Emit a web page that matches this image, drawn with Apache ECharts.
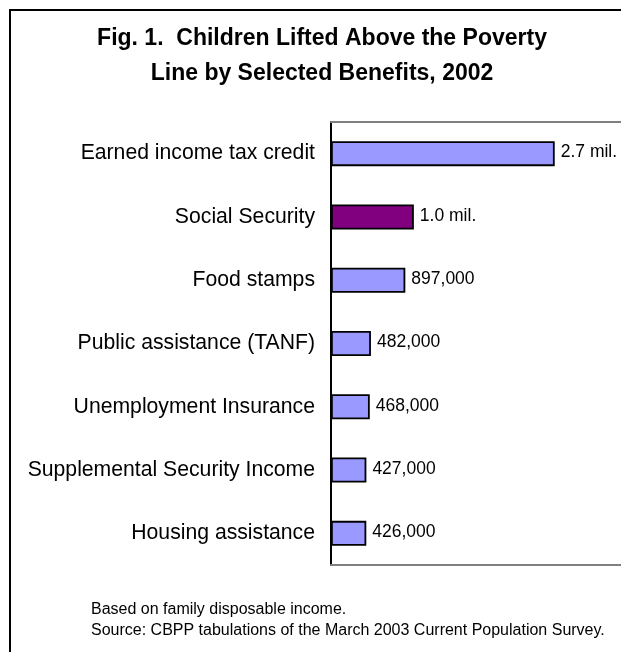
<!DOCTYPE html>
<html>
<head>
<meta charset="utf-8">
<script src="https://cdn.jsdelivr.net/npm/echarts@6/dist/echarts.min.js"></script>
<style>
html,body{margin:0;padding:0;background:#fff;}
#chart{width:621px;height:652px;}
</style>
</head>
<body>
<div id="chart"></div>
<script>
const categories = ['Earned income tax credit','Social Security','Food stamps','Public assistance (TANF)','Unemployment Insurance','Supplemental Security Income','Housing assistance'];
const valuesMillions = [2.7, 1.0, 0.897, 0.482, 0.468, 0.427, 0.426];
const valueLabels = ['2.7 mil.','1.0 mil.','897,000','482,000','468,000','427,000','426,000'];
const barColors = ['#9999FF','#800080','#9999FF','#9999FF','#9999FF','#9999FF','#9999FF'];
const titleLines = ['Fig. 1.  Children Lifted Above the Poverty','Line by Selected Benefits, 2002'];
const footnotes = ['Based on family disposable income.','Source: CBPP tabulations of the March 2003 Current Population Survey.'];

const FONT = '"Liberation Sans", Arial, sans-serif';
const chart = echarts.init(document.getElementById('chart'), null, {renderer:'canvas'});
const hiddenAxisParts = {axisTick:{show:false}, axisLabel:{show:false}, splitLine:{show:false}};
chart.setOption({
  animation:false,
  backgroundColor:'#ffffff',
  grid:{left:331, top:122, right:0, bottom:87, show:false},
  xAxis:[
    Object.assign({type:'value', min:0, max:3.5, position:'bottom',
      axisLine:{show:true, lineStyle:{color:'#808080', width:2}}}, hiddenAxisParts),
    Object.assign({type:'value', min:0, max:3.5, position:'top',
      axisLine:{show:true, lineStyle:{color:'#808080', width:2}}}, hiddenAxisParts)
  ],
  yAxis:{type:'category', data:categories, inverse:true,
    axisLine:{show:true, lineStyle:{color:'#000', width:2}},
    axisTick:{show:false},
    axisLabel:{color:'#000', fontSize:21.2, fontFamily:FONT, margin:16, padding:[0,0,2,0]}
  },
  series:[{
    type:'bar',
    xAxisIndex:0,
    data:valuesMillions.map((v,i)=>({value:v, itemStyle:{color:barColors[i]}})),
    barWidth:25,
    itemStyle:{borderColor:'#000', borderWidth:1.8},
    label:{show:true, position:'right', distance:6, color:'#000', fontSize:17.5, fontFamily:FONT,
      offset:[0,-1], formatter:(p)=>valueLabels[p.dataIndex]}
  }],
  graphic:[
    {type:'rect', shape:{x:10, y:10, width:800, height:800}, style:{fill:'none', stroke:'#000', lineWidth:2}, silent:true},
    {type:'text', x:322, y:39, style:{text:titleLines[0], font:'bold 23px '+FONT, fill:'#000', textAlign:'center', textVerticalAlign:'middle'}},
    {type:'text', x:322, y:74, style:{text:titleLines[1], font:'bold 23px '+FONT, fill:'#000', textAlign:'center', textVerticalAlign:'middle'}},
    {type:'text', x:91, y:610, style:{text:footnotes[0], font:'16px '+FONT, fill:'#000', textAlign:'left', textVerticalAlign:'middle'}},
    {type:'text', x:91, y:631, style:{text:footnotes[1], font:'16px '+FONT, fill:'#000', textAlign:'left', textVerticalAlign:'middle'}}
  ]
});
</script>
</body>
</html>
